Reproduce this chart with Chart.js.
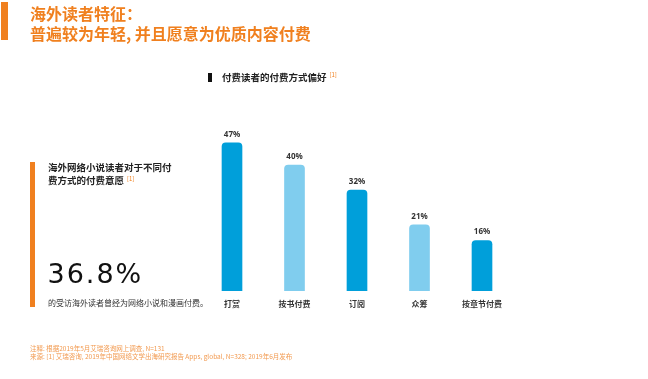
<!DOCTYPE html>
<html>
<head>
<meta charset="utf-8">
<script src="https://cdn.jsdelivr.net/npm/chart.js@4"></script>
<style>
  html, body { margin:0; padding:0; background:#fff; }
  body { width:648px; height:379px; position:relative; overflow:hidden;
         font-family:"Noto Sans CJK SC","Noto Sans",sans-serif; }
  #c { position:absolute; left:0; top:0; }
  .abs { position:absolute; white-space:nowrap; }
  sup { font-size:6px; color:#f0801f; font-weight:400; vertical-align:top; position:relative; top:-2px; margin-left:3px; }
</style>
</head>
<body>
<canvas id="c" width="648" height="379"></canvas>

<div class="abs" style="left:1px;top:2px;width:7px;height:38px;background:#f0801f;"></div>
<div class="abs" style="left:30px;top:3px;font-size:16px;line-height:20px;font-weight:700;color:#f0801f;">海外读者特征：<br>普遍较为年轻, 并且愿意为优质内容付费</div>

<div class="abs" style="left:208px;top:73px;width:4px;height:9px;background:#111;"></div>
<div class="abs" style="left:222px;top:70px;font-size:9.5px;line-height:14px;font-weight:700;color:#222;">付费读者的付费方式偏好<sup>[1]</sup></div>

<div class="abs" style="left:30px;top:162px;width:5px;height:145px;background:#f0801f;"></div>
<div class="abs" style="left:48px;top:160.5px;font-size:9.5px;line-height:13px;font-weight:700;color:#222;">海外网络小说读者对于不同付<br>费方式的付费意愿<sup>[1]</sup></div>
<div class="abs" style="left:47.5px;top:260px;font-size:27px;line-height:27px;font-weight:400;letter-spacing:2px;color:#111;font-family:'DejaVu Sans','Noto Sans',sans-serif;">36.8%</div>
<div class="abs" style="left:48px;top:298px;font-size:8px;line-height:10px;color:#333;">的受访海外读者曾经为网络小说和漫画付费。</div>

<div class="abs" style="left:30px;top:344px;font-size:6.5px;line-height:8px;color:#f29a50;">注释: 根据2019年5月艾瑞咨询网上调查, N=131<br>来源: [1] 艾瑞咨询, 2019年中国网络文学出海研究报告 Apps, global, N=328; 2019年6月发布</div>

<script>
const categories = ['打赏', '按书付费', '订阅', '众筹', '按章节付费'];
const values = [47, 40, 32, 21, 16];
const barColors = ['#009fda', '#80cdee', '#009fda', '#80cdee', '#009fda'];

const valueLabelPlugin = {
  id: 'valueLabels',
  afterDatasetsDraw(chart) {
    const ctx = chart.ctx;
    const meta = chart.getDatasetMeta(0);
    ctx.save();
    ctx.font = '700 8px "Noto Sans","Noto Sans CJK SC",sans-serif';
    ctx.fillStyle = '#333';
    ctx.textAlign = 'center';
    ctx.textBaseline = 'middle';
    meta.data.forEach((bar, i) => {
      ctx.fillText(values[i] + '%', bar.x, bar.y - 8.5);
    });
    ctx.restore();
  }
};

new Chart(document.getElementById('c'), {
  type: 'bar',
  data: {
    labels: categories,
    datasets: [{
      data: values,
      backgroundColor: barColors,
      barThickness: 20,
      borderRadius: { topLeft: 4, topRight: 4, bottomLeft: 0, bottomRight: 0 },
      borderSkipped: false
    }]
  },
  options: {
    responsive: false,
    animation: false,
    devicePixelRatio: 1,
    layout: { padding: { left: 200.75, right: 134.75, top: 133.5, bottom: 62.4 } },
    plugins: { legend: { display: false }, tooltip: { enabled: false } },
    scales: {
      x: {
        grid: { display: false, drawTicks: false },
        border: { display: false },
        ticks: {
          padding: 8,
          color: '#333',
          font: { size: 8, weight: '700', family: '"Noto Sans CJK SC","Noto Sans",sans-serif' }
        }
      },
      y: { display: false, min: 0, max: 50 }
    }
  },
  plugins: [valueLabelPlugin]
});
</script>
</body>
</html>
